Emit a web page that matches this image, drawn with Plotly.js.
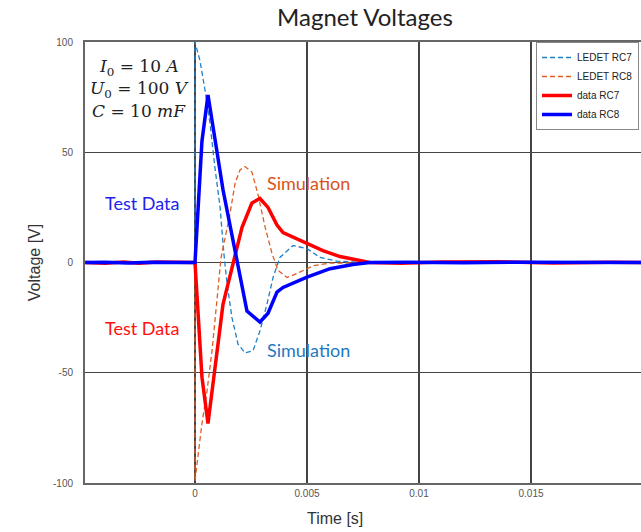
<!DOCTYPE html>
<html>
<head>
<meta charset="utf-8">
<script src="https://cdn.plot.ly/plotly-3.0.1.min.js"></script>
<style>html,body{margin:0;padding:0;overflow:hidden;background:#fff;}</style>
</head>
<body>
<div id="chart" style="width:650px;height:532px;"></div>
<script>
// LEDET RC7 (simulation, blue dashed)
const simRC7_t = [-0.0049, -0.003, -0.001, 0, 0, 0.00022, 0.00045, 0.00067, 0.00089, 0.00112, 0.00129, 0.00143, 0.00165, 0.00192, 0.00223, 0.00259, 0.0029, 0.00321, 0.00348, 0.00371, 0.00379, 0.00438, 0.0050, 0.00558, 0.00634, 0.00737, 0.0085, 0.012, 0.016, 0.0201];
const simRC7_v = [0, 0, 0, 0, 100, 91.6, 78, 63, 43, 25, 4, -9.5, -25, -37, -41, -40, -31, -19, -7, -0.5, 2.3, 7.7, 6.3, 2.3, 0.6, 0.1, 0, 0, 0, 0];
// LEDET RC8 (simulation, orange dashed)
const simRC8_t = [-0.0049, -0.003, -0.001, 0, 0, 0.00013, 0.00031, 0.00054, 0.00076, 0.00098, 0.00116, 0.00156, 0.00179, 0.00201, 0.00223, 0.00254, 0.00281, 0.00313, 0.00344, 0.00371, 0.00411, 0.00455, 0.00527, 0.00603, 0.00737, 0.0085, 0.012, 0.016, 0.0201];
const simRC8_v = [0, 0, 0, 0, -99, -88, -73, -58, -40, -17, 2, 22, 36, 42, 43.5, 41, 31, 16, 4, -3.6, -6.8, -5, -1.5, -0.3, 0, 0, 0, 0, 0];
// data RC7 (measured, red)
const dataRC7_t = [-0.0049, -0.004, -0.0032, -0.0025, -0.0017, -0.001, 0, 0.00031, 0.00058, 0.00125, 0.0017, 0.0021, 0.00254, 0.0029, 0.00326, 0.00366, 0.00393, 0.005, 0.00571, 0.00647, 0.00723, 0.0078, 0.0092, 0.011, 0.0135, 0.016, 0.0185, 0.0201];
const dataRC7_v = [0, -0.3, 0.2, -0.3, 0.2, 0, 0, -52, -73, -19, 0, 16, 27, 29, 25, 17, 13.6, 8.6, 5.4, 2.7, 1, 0, -0.3, 0.2, 0.3, -0.2, 0.1, 0];
// data RC8 (measured, blue)
const dataRC8_t = [-0.0049, -0.004, -0.003, -0.002, -0.001, 0, 0.00031, 0.00058, 0.00125, 0.001875, 0.00232, 0.0029, 0.00326, 0.00366, 0.00393, 0.005, 0.00603, 0.00705, 0.0078, 0.0095, 0.012, 0.0145, 0.017, 0.0201];
const dataRC8_v = [0, 0.1, -0.2, 0.1, 0, 0, 55, 76, 33, 0, -22, -27, -23, -13.4, -11.3, -6.6, -2.8, -0.9, 0, 0.1, -0.1, 0.1, 0, 0];

const xTicks = [0, 0.005, 0.01, 0.015];
const xTickText = ['0', '0.005', '0.01', '0.015'];
const yTicks = [-100, -50, 0, 50, 100];
const yTickText = ['-100', '-50', '0', '50', '100'];

const traces = [
  {x: simRC7_t, y: simRC7_v, name: 'LEDET RC7', mode: 'lines', line: {color: '#1F80C8', width: 1.3, dash: '5px,3px'}},
  {x: simRC8_t, y: simRC8_v, name: 'LEDET RC8', mode: 'lines', line: {color: '#DE5E25', width: 1.3, dash: '5px,3px'}},
  {x: dataRC7_t, y: dataRC7_v, name: 'data RC7', mode: 'lines', line: {color: '#FF0000', width: 3.5}},
  {x: dataRC8_t, y: dataRC8_v, name: 'data RC8', mode: 'lines', line: {color: '#0000FF', width: 3.5}}
];

const cal = 'Lato, "Open Sans", sans-serif';
const serif = '"DejaVu Serif", "Liberation Serif", serif';
const sans = '"Liberation Sans", Arial, sans-serif';
const ann = [
  {x: -0.00237, y: 27, text: 'Test Data', font: {family: cal, size: 18, color: '#2222EE'}},
  {x: -0.00237, y: -29.5, text: 'Test Data', font: {family: cal, size: 18, color: '#FF1010'}},
  {x: 0.00505, y: 36, text: 'Simulation', font: {family: cal, size: 18, color: '#D95319'}},
  {x: 0.00505, y: -39.5, text: 'Simulation', font: {family: cal, size: 18, color: '#1F78C1'}},
  {x: -0.0025, y: 88.5, text: '<i>I</i><sub>0</sub> = 10 <i>A</i>', font: {family: serif, size: 17, color: '#222'}},
  {x: -0.0025, y: 78.5, text: '<i>U</i><sub>0</sub> = 100 <i>V</i>', font: {family: serif, size: 17, color: '#222'}},
  {x: -0.0025, y: 68.5, text: '<i>C</i> = 10 <i>mF</i>', font: {family: serif, size: 17, color: '#222'}},
  {xref: 'paper', yref: 'paper', x: (335 - 85) / 560, y: 0, yshift: -35, text: 'Time [s]', font: {family: sans, size: 16, color: '#333'}}
].map(a => Object.assign({showarrow: false, xanchor: 'center', yanchor: 'middle'}, a));

const layout = {
  width: 650, height: 532,
  margin: {l: 85, r: 5, t: 42, b: 49},
  paper_bgcolor: '#fff', plot_bgcolor: '#fff',
  title: {text: 'Magnet Voltages', x: 365 / 650, xanchor: 'center', y: 1 - 18 / 532, yanchor: 'middle', font: {family: cal, size: 24, color: '#222'}},
  xaxis: {
    range: [-0.004911, 0.02009], tickvals: xTicks, ticktext: xTickText,
    showgrid: true, gridcolor: '#444', gridwidth: 1.2, zeroline: false,
    showline: true, linecolor: '#666', linewidth: 2, mirror: true,
    ticks: '', tickfont: {family: sans, size: 10, color: '#555'}
  },
  yaxis: {
    range: [-100, 100], tickvals: yTicks, ticktext: yTickText,
    showgrid: true, gridcolor: '#444', gridwidth: 1.2, zeroline: false,
    showline: true, linecolor: '#666', linewidth: 2, mirror: true,
    ticks: '', ticklabelstandoff: 8,
    tickfont: {family: sans, size: 10, color: '#555'},
    title: {text: 'Voltage [V]', standoff: 8, font: {family: sans, size: 16, color: '#333'}}
  },
  showlegend: true,
  legend: {
    x: (639 - 85) / 560, xanchor: 'right', y: 1, yanchor: 'top',
    bgcolor: '#fff', bordercolor: '#888', borderwidth: 1,
    font: {family: sans, size: 10, color: '#222'},
    itemwidth: 30, tracegroupgap: 0
  },
  annotations: ann
};

Plotly.newPlot('chart', traces, layout, {displayModeBar: false, staticPlot: true});
</script>
</body>
</html>
